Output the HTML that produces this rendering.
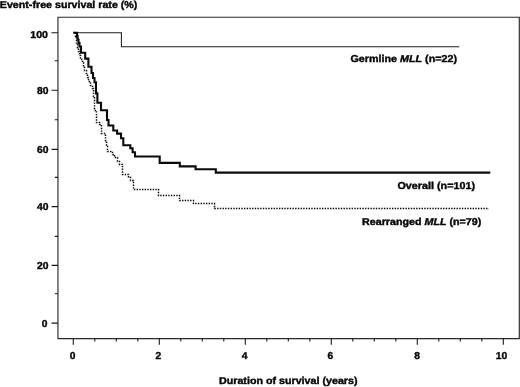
<!DOCTYPE html>
<html><head><meta charset="utf-8"><title>Event-free survival</title>
<style>
html,body{margin:0;padding:0;background:#fff;}
body{width:520px;height:387px;overflow:hidden;}
svg{display:block;will-change:transform;}
text{font-family:"Liberation Sans",sans-serif;font-weight:bold;font-size:10px;text-rendering:geometricPrecision;fill:#050505;stroke:#050505;stroke-width:0.4px;}
</style></head>
<body>
<svg width="520" height="387" viewBox="0 0 520 387">
<path d="M57.95,17.25 H519.3 V338.6 H57.95 Z" fill="none" stroke="#2a2a2a" stroke-width="1.15"/>
<path d="M51.5,323.1 H57.95 M54.8,293.8 H57.95 M51.5,265.4 H57.95 M54.8,236.4 H57.95 M51.5,206.6 H57.95 M54.8,177.4 H57.95 M51.5,149.4 H57.95 M54.8,119.8 H57.95 M51.5,90.3 H57.95 M54.8,60.8 H57.95 M51.5,32.8 H57.95 M73.3,338.6 V344.8 M94.8,338.6 V341.5 M116.3,338.6 V341.5 M137.8,338.6 V341.5 M159.3,338.6 V344.8 M180.8,338.6 V341.5 M202.3,338.6 V341.5 M223.8,338.6 V341.5 M245.3,338.6 V344.8 M266.8,338.6 V341.5 M288.3,338.6 V341.5 M309.8,338.6 V341.5 M331.3,338.6 V344.8 M352.8,338.6 V341.5 M374.3,338.6 V341.5 M395.8,338.6 V341.5 M417.3,338.6 V344.8 M438.8,338.6 V341.5 M460.3,338.6 V341.5 M481.8,338.6 V341.5 M503.3,338.6 V344.8" fill="none" stroke="#1a1a1a" stroke-width="1.1"/>
<path d="M73.5,32.7 H121.4 V46.7 H459.2" fill="none" stroke="#1c1c1c" stroke-width="1.05"/>
<path d="M73.5,32.5 H75.5 V36.5 H76.5 V40.5 H76.5 V44.5 H77.5 V48.5 H78.5 V51.5 H79.5 V55.5 H80.5 V59.5 H82.5 V62.5 H83.5 V66.5 H84.5 V70.5 H86.5 V73.5 H87.5 V77.5 H88.5 V81.5 H90.5 V85.5 H92.5 V88.5 H93.5 V96.5 H94.5 V110.5 H96.5 V122.5 H99.5 V124.5 H101.5 V133.5 H105.5 V140.5 H106.5 V146.5 H107.5 V151.5 H112.5 V154.5 H114.5 V157.5 H117.5 V161.5 H119.5 V164.5 H122.5 V174.5 H128.5 V177.5 H130.5 V180.5 H133.5 V189.5 H158.5 V195.5 H179.5 V200.5 H193.5 V203.5 H214.5 V208.5 H489" fill="none" stroke="#080808" stroke-width="1.5" stroke-dasharray="1.4 1.29" stroke-dashoffset="0.5"/>
<path d="M73.3,32.7 H77.0 V36.0 H77.6 V39.5 H78.5 V43.0 H79.5 V46.5 H81.0 V52.7 H85.2 V58.6 H88.4 V66.7 H91.5 V73.0 H93.0 V78.0 H94.5 V82.3 H96.0 V93.4 H97.4 V102.7 H101.0 V110.2 H107.0 V120.0 H108.5 V125.5 H113.3 V130.5 H117.1 V133.6 H121.0 V138.3 H123.3 V145.2 H130.3 V148.3 H132.6 V152.2 H135.0 V156.5 H159.7 V162.9 H179.8 V166.4 H195.6 V169.2 H215.8 V172.6 H490.3" fill="none" stroke="#0a0a0a" stroke-width="2.1" stroke-linejoin="miter"/>
<text x="-0.2" y="8" textLength="137.6" lengthAdjust="spacingAndGlyphs" text-anchor="start">Event-free survival rate (%)</text>
<text x="350.5" y="62" textLength="106.5" lengthAdjust="spacingAndGlyphs" text-anchor="start">Germline <tspan font-style="italic">MLL</tspan> (n=22)</text>
<text x="397.5" y="189" textLength="77.5" lengthAdjust="spacingAndGlyphs" text-anchor="start">Overall (n=101)</text>
<text x="362" y="225" textLength="119.3" lengthAdjust="spacingAndGlyphs" text-anchor="start">Rearranged <tspan font-style="italic">MLL</tspan> (n=79)</text>
<text x="219" y="384" textLength="138.5" lengthAdjust="spacingAndGlyphs" text-anchor="start">Duration of survival (years)</text>
<text x="41.8" y="327" textLength="5.7" lengthAdjust="spacingAndGlyphs" text-anchor="start">0</text>
<text x="37.0" y="269" textLength="11.5" lengthAdjust="spacingAndGlyphs" text-anchor="start">20</text>
<text x="37.0" y="210" textLength="11.5" lengthAdjust="spacingAndGlyphs" text-anchor="start">40</text>
<text x="37.0" y="153" textLength="11.5" lengthAdjust="spacingAndGlyphs" text-anchor="start">60</text>
<text x="37.0" y="94" textLength="11.5" lengthAdjust="spacingAndGlyphs" text-anchor="start">80</text>
<text x="30.3" y="38" textLength="17.6" lengthAdjust="spacingAndGlyphs" text-anchor="start">100</text>
<text x="69.8" y="359" textLength="5.7" lengthAdjust="spacingAndGlyphs" text-anchor="start">0</text>
<text x="155.5" y="359" textLength="5.7" lengthAdjust="spacingAndGlyphs" text-anchor="start">2</text>
<text x="241.8" y="359" textLength="5.7" lengthAdjust="spacingAndGlyphs" text-anchor="start">4</text>
<text x="327.4" y="359" textLength="5.7" lengthAdjust="spacingAndGlyphs" text-anchor="start">6</text>
<text x="414.2" y="359" textLength="5.7" lengthAdjust="spacingAndGlyphs" text-anchor="start">8</text>
<text x="495.7" y="359" textLength="11.5" lengthAdjust="spacingAndGlyphs" text-anchor="start">10</text>
</svg>
</body></html>
